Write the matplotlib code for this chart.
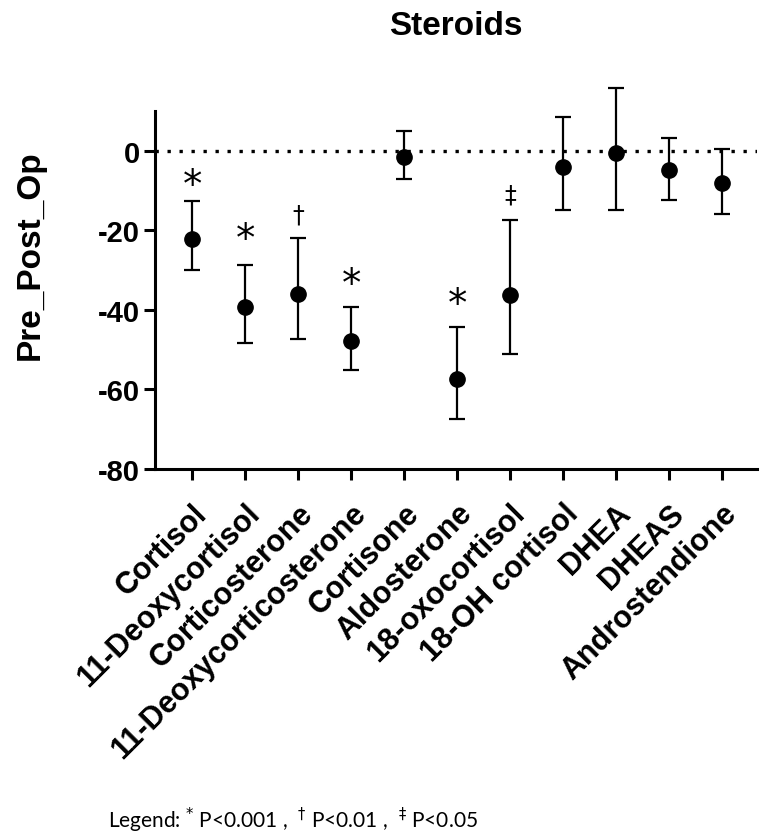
import numpy as np
import matplotlib
matplotlib.use("Agg")
import matplotlib.pyplot as plt

plt.rcParams['font.family'] = ['Liberation Sans', 'DejaVu Sans']
plt.rcParams['mathtext.fontset'] = 'dejavusans'

# data
steroids = ["Cortisol", "11-Deoxycortisol", "Corticosterone",
            "11-Deoxycorticosterone", "Cortisone", "Aldosterone",
            "18-oxocortisol", "18-OH cortisol", "DHEA", "DHEAS",
            "Androstendione"]
mean = [-22.1, -39.4, -35.9, -47.9, -1.5, -57.4, -36.3, -4.1, -0.6, -4.9, -8.2]
upper = [-12.7, -28.7, -22.0, -39.2, 4.9, -44.2, -17.4, 8.6, 15.9, 3.2, 0.4]
lower = [-30.1, -48.3, -47.2, -55.2, -7.2, -67.4, -51.0, -15.0, -14.8, -12.3, -16.0]

# significance marks: (category index, symbol, y position)
marks = [(0, "*", -8.5), (1, "*", -22.2), (2, "\u2020", -16.1),
         (3, "*", -33.4), (5, "*", -38.4), (6, "\u2021", -11.1)]

yticks = [0, -20, -40, -60, -80]

fig = plt.figure(figsize=(7.64, 8.37), dpi=100)
ax = fig.add_axes([0.2029, 0.4385, 0.9908 - 0.2029, 0.8662 - 0.4385])

x = np.arange(len(steroids))
mean = np.array(mean)
yerr = np.vstack([mean - np.array(lower), np.array(upper) - mean])

ax.axhline(0, color='black', linestyle=(0, (1, 2.6)), linewidth=2.4, zorder=1)
eb = ax.errorbar(x, mean, yerr=yerr, fmt='o', color='black', markersize=11,
                 elinewidth=1.6, capsize=6, capthick=1.6, zorder=3)
# DHEA bar runs past the top of the axis in the original
for art in eb.lines[1] + eb.lines[2]:
    art.set_clip_on(False)
eb.lines[0].set_clip_on(False)

for i, sym, ypos in marks:
    if sym == "*":
        ax.text(i, ypos, sym, ha='center', va='center', fontsize=28,
                family='DejaVu Sans')
    else:
        ax.text(i, ypos, sym, ha='center', va='center', fontsize=17,
                family='DejaVu Sans')

ax.set_xlim(-0.70, 10.66)
ax.set_ylim(-80, 10)
ax.set_yticks(yticks)
ax.set_yticklabels([str(t) for t in yticks], fontsize=21, fontweight='bold')
ax.set_xticks(x)
ax.set_xticklabels(steroids, rotation=45, ha='right', rotation_mode='anchor',
                   fontsize=22, fontweight='bold')

for side in ['top', 'right']:
    ax.spines[side].set_visible(False)
for side in ['left', 'bottom']:
    ax.spines[side].set_linewidth(2.2)
ax.tick_params(axis='both', width=2.2, length=8, pad=3)
ax.tick_params(axis='x', pad=13)

fig.text(0.597, 0.968, "Steroids", ha='center', va='center',
         fontsize=24, fontweight='bold')
fig.text(0.040, 0.695, "Pre_Post_Op", ha='center', va='center',
         rotation=90, fontsize=24, fontweight='bold')
fig.text(0.141, 0.020,
         r"Legend: $^{*}$ P<0.001 ,  $^{\dag}$ P<0.01 ,  $^{\ddag}$ P<0.05",
         ha='left', va='center', fontsize=15, family=['Lato', 'DejaVu Sans'])

fig.savefig("out.png", dpi=100)
